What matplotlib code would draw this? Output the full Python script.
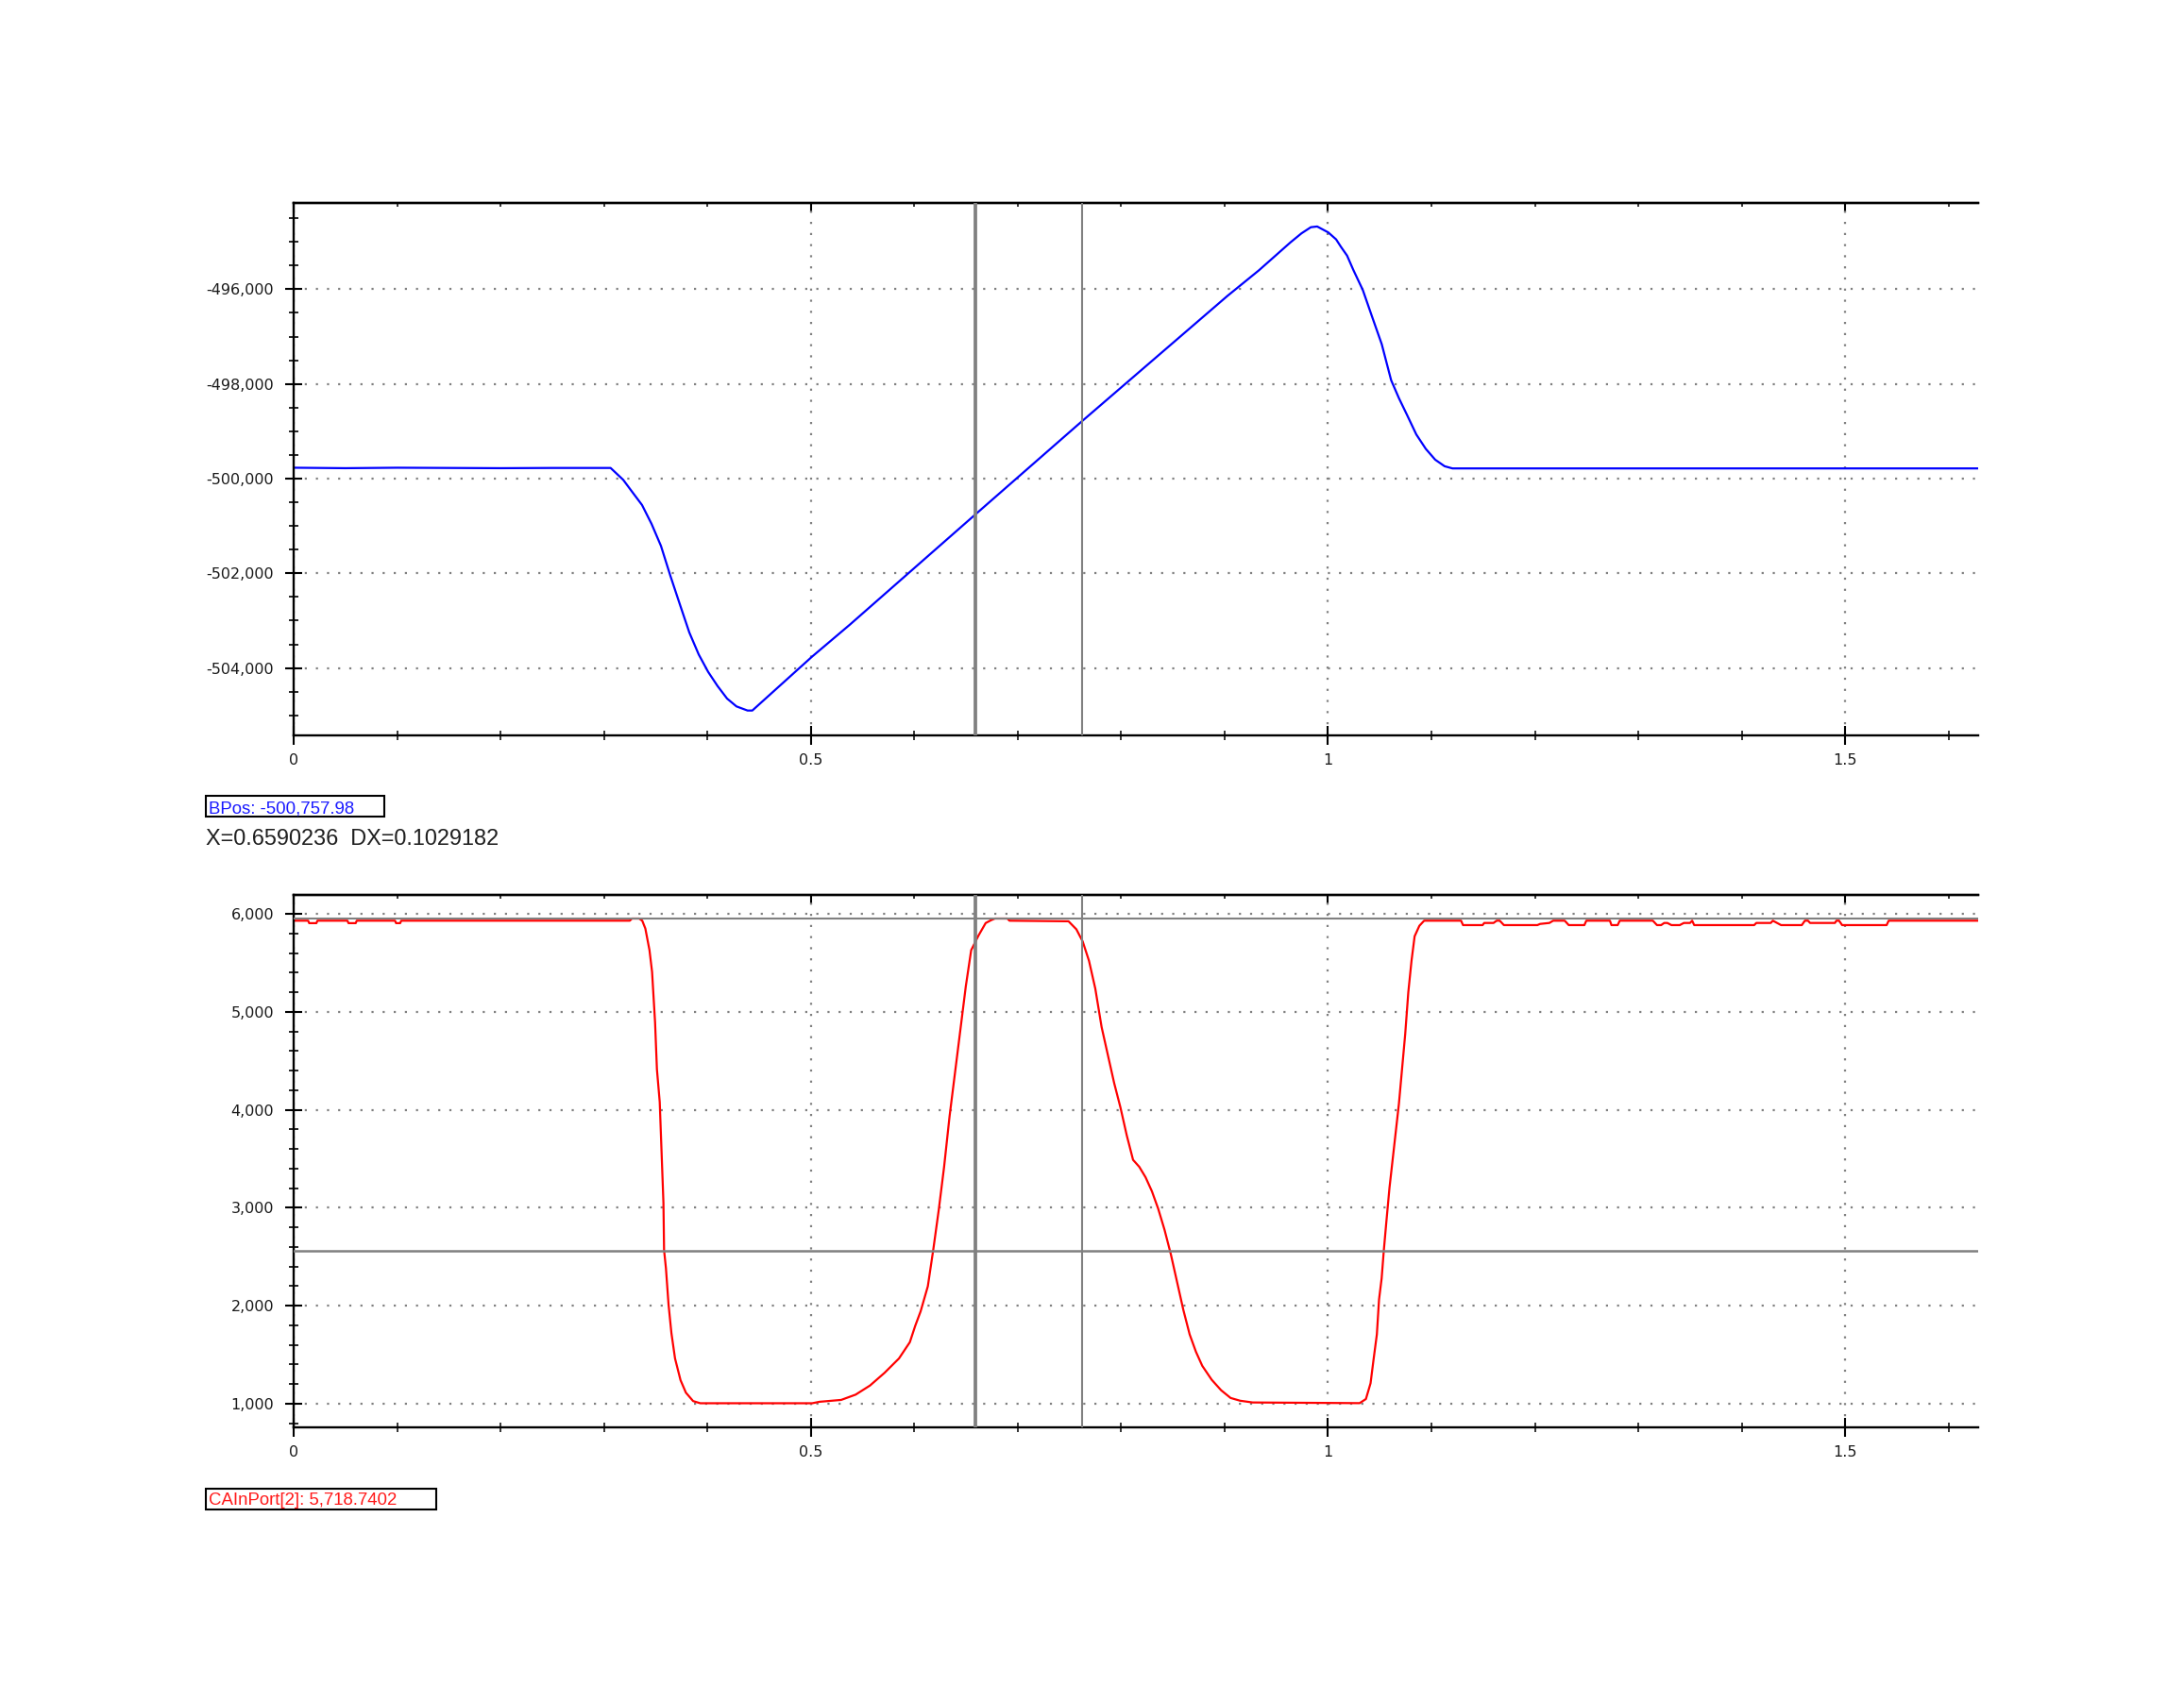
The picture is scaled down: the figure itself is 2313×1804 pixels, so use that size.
import matplotlib
matplotlib.use("Agg")
import matplotlib.pyplot as plt
from matplotlib.patches import Rectangle
from matplotlib.ticker import MultipleLocator

# ---------------- data ----------------
bpos_t = [0.0, 0.05, 0.10, 0.15, 0.20, 0.25, 0.3064, 0.3186, 0.3277, 0.3368,
          0.3460, 0.3551, 0.3642, 0.3733, 0.3825, 0.3916, 0.4007, 0.4098,
          0.4190, 0.4281, 0.4388, 0.4434, 0.5012, 0.5377, 0.6590, 0.7619,
          0.9028, 0.9332, 0.9637, 0.9743, 0.9834, 0.9895, 1.0002, 1.0078,
          1.0123, 1.0184, 1.0245, 1.0336, 1.0427, 1.0519, 1.0610, 1.0686,
          1.0762, 1.0853, 1.0945, 1.1036, 1.1127, 1.1203, 1.30, 1.50, 1.6285]
bpos_v = [-499770, -499780, -499770, -499775, -499780, -499775, -499775,
          -500026, -500293, -500558, -500957, -501422, -502054, -502652,
          -503250, -503715, -504082, -504381, -504646, -504812, -504899,
          -504899, -503760, -503085, -500758, -498792, -496140, -495600,
          -495010, -494820, -494690, -494675, -494800, -494947, -495099,
          -495290, -495595, -496016, -496588, -497160, -497922, -498305,
          -498648, -499067, -499372, -499601, -499739, -499785, -499785,
          -499785, -499785]

ain_t = [0.0, 0.014, 0.015, 0.022, 0.023, 0.052, 0.053, 0.060, 0.061, 0.098,
         0.099, 0.103, 0.104, 0.325, 0.327, 0.334, 0.337, 0.3400, 0.3440,
         0.3465, 0.3494, 0.3512, 0.3539, 0.3557, 0.3575, 0.3581, 0.3599,
         0.3624, 0.3652, 0.3687, 0.3740, 0.3792, 0.3862, 0.3931, 0.5013,
         0.5084, 0.5293, 0.5433, 0.5572, 0.5712, 0.5852, 0.5957, 0.6009,
         0.6061, 0.6131, 0.6183, 0.6236, 0.6288, 0.6341, 0.6393, 0.6445,
         0.6498, 0.6550, 0.6620, 0.6690, 0.6742, 0.6780, 0.6900, 0.6920,
         0.7491, 0.7567, 0.7628, 0.7689, 0.7750, 0.7811, 0.7871, 0.7932,
         0.7993, 0.8054, 0.8115, 0.8175, 0.8236, 0.8297, 0.8358, 0.8419,
         0.8480, 0.8540, 0.8601, 0.8662, 0.8723, 0.8784, 0.8875, 0.8966,
         0.9058, 0.9149, 0.9271, 1.0305, 1.0366, 1.0411, 1.0441, 1.0472,
         1.0493, 1.0518, 1.0539, 1.0563, 1.0594, 1.0624, 1.0655, 1.0685,
         1.0715, 1.0746, 1.0776, 1.0807, 1.0837, 1.0883, 1.0929, 1.1286,
         1.1305, 1.1494, 1.1510, 1.1600, 1.1630, 1.1660, 1.1700, 1.2024,
         1.2050, 1.2140, 1.2176, 1.2288, 1.2327, 1.2478, 1.2497, 1.2725,
         1.2740, 1.2800, 1.2820, 1.3140, 1.3180, 1.3220, 1.3250, 1.3280,
         1.3320, 1.3400, 1.3440, 1.3500, 1.3520, 1.3540, 1.4120, 1.4140,
         1.4280, 1.4300, 1.4340, 1.4380, 1.4580, 1.4610, 1.4640, 1.4660,
         1.4900, 1.4915, 1.4940, 1.4970, 1.5400, 1.5420, 1.6285]
ain_v = [5930, 5930, 5905, 5905, 5930, 5930, 5905, 5905, 5930, 5930,
         5905, 5905, 5930, 5930, 5952, 5952, 5930, 5850, 5629,
         5408, 4892, 4412, 4080, 3564, 3048, 2568, 2384,
         2015, 1721, 1462, 1241, 1113, 1027, 1005, 1005,
         1020, 1039, 1093, 1186, 1315, 1462, 1628, 1795,
         1942, 2199, 2568, 2974, 3416, 3933, 4375, 4818,
         5260, 5629, 5777, 5906, 5935, 5952, 5952, 5930,
         5924, 5842, 5718, 5521, 5236, 4844, 4559, 4274,
         4024, 3739, 3489, 3418, 3311, 3169, 2990, 2776,
         2527, 2243, 1958, 1708, 1530, 1387, 1245, 1138,
         1059, 1031, 1013, 1006, 1048, 1209, 1459, 1708,
         2064, 2278, 2563, 2848, 3204, 3489, 3775, 4060,
         4416, 4773, 5200, 5521, 5771, 5878, 5930, 5930,
         5885, 5885, 5907, 5907, 5930, 5930, 5885, 5885,
         5897, 5907, 5930, 5930, 5885, 5885, 5930, 5930,
         5885, 5885, 5930, 5930, 5885, 5885, 5907, 5907,
         5885, 5885, 5907, 5907, 5930, 5885, 5885, 5907,
         5907, 5930, 5907, 5885, 5885, 5930, 5930, 5907,
         5907, 5930, 5930, 5885, 5885, 5930, 5930]

cursor_x = 0.6590236
cursor_dx = 0.1029182
hline_levels = [2560, 5950]

xticks = [0, 0.5, 1.0, 1.5]
xticklabels = ["0", "0.5", "1", "1.5"]
top_yticks = [-504000, -502000, -500000, -498000, -496000]
top_yticklabels = ["-504,000", "-502,000", "-500,000", "-498,000", "-496,000"]
bot_yticks = [1000, 2000, 3000, 4000, 5000, 6000]
bot_yticklabels = ["1,000", "2,000", "3,000", "4,000", "5,000", "6,000"]

readout_top = "BPos: -500,757.98"
readout_cursor = "X=0.6590236  DX=0.1029182"
readout_bot = "CAInPort[2]: 5,718.7402"

# ---------------- layout ----------------
W, H = 2313, 1804
fig = plt.figure(figsize=(W / 100, H / 100), dpi=100)
fig.patch.set_facecolor("white")

def fr(x0, y0, x1, y1):
    return [x0 / W, 1 - y1 / H, (x1 - x0) / W, (y1 - y0) / H]

ax1 = fig.add_axes(fr(311, 215, 2095, 779))
ax2 = fig.add_axes(fr(311, 948, 2095, 1512))

GRID = "#808080"
CUR = "#808080"


def style(ax, ylim, yticks, ylabels, yminor):
    ax.set_xlim(0, 1.6285)
    ax.set_ylim(*ylim)
    ax.spines["right"].set_visible(False)
    for s in ["left", "top", "bottom"]:
        ax.spines[s].set_linewidth(1.7)
        ax.spines[s].set_color("black")
    ax.set_xticks(xticks)
    ax.set_xticklabels(xticklabels)
    ax.xaxis.set_minor_locator(MultipleLocator(0.1))
    ax.set_yticks(yticks)
    ax.set_yticklabels(ylabels)
    ax.yaxis.set_minor_locator(MultipleLocator(yminor))
    ax.tick_params(axis="y", which="major", direction="inout", length=13,
                   width=1.5, pad=8.4, labelsize=11.5, labelcolor="#1a1a1a")
    ax.tick_params(axis="y", which="minor", direction="inout", length=7, width=1.2)
    ax.tick_params(axis="x", which="major", direction="inout", length=14.4,
                   width=1.5, pad=6.5, labelsize=11.5, labelcolor="#1a1a1a", top=False)
    ax.tick_params(axis="x", which="minor", direction="inout", length=7,
                   width=1.1, top=False)
    sec = ax.secondary_xaxis("top")
    sec.set_xticks(xticks)
    sec.xaxis.set_minor_locator(MultipleLocator(0.1))
    sec.tick_params(which="major", direction="in", length=7.2, width=1.5, labeltop=False)
    sec.tick_params(which="minor", direction="in", length=3, width=1.1)
    sec.spines["top"].set_linewidth(1.7)
    ax.grid(True, which="major", color=GRID, linestyle=(0, (1, 4.3)), linewidth=1.6)
    for lbl in ax.get_xticklabels() + ax.get_yticklabels():
        lbl.set_family("DejaVu Sans")


style(ax1, (-505424, -494178), top_yticks, top_yticklabels, 500)
style(ax2, (759, 6193), bot_yticks, bot_yticklabels, 200)

ax1.plot(bpos_t, bpos_v, color="#0000ff", linewidth=1.6, zorder=2)
ax2.plot(ain_t, ain_v, color="#ff0000", linewidth=1.6, zorder=2)

for ax in (ax1, ax2):
    ax.axvline(cursor_x, color=CUR, linewidth=2.7, zorder=3)
    ax.axvline(cursor_x + cursor_dx, color=CUR, linewidth=1.5, zorder=3)
ax2.axhline(hline_levels[0], color=CUR, linewidth=1.8, zorder=3)
ax2.axhline(hline_levels[1], color=CUR, linewidth=1.5, zorder=3)

# ---------------- readouts ----------------
def box(x0, y0, x1, y1):
    fig.add_artist(Rectangle((x0 / W, 1 - y1 / H), (x1 - x0) / W, (y1 - y0) / H,
                             transform=fig.transFigure, fill=False,
                             edgecolor="black", linewidth=1.5))

box(218, 843, 407, 865)
fig.text(221 / W, 1 - 861 / H, readout_top, color="#1a1aff", fontsize=13.4,
         family="Liberation Sans", ha="left", va="baseline")
fig.text(218 / W, 1 - 895 / H, readout_cursor, color="#202020", fontsize=16.9,
         family="Liberation Sans", ha="left", va="baseline")
box(218, 1577, 462, 1599)
fig.text(221 / W, 1 - 1594 / H, readout_bot, color="#ff1a1a", fontsize=13.4,
         family="Liberation Sans", ha="left", va="baseline")

fig.savefig("out.png", dpi=100)
